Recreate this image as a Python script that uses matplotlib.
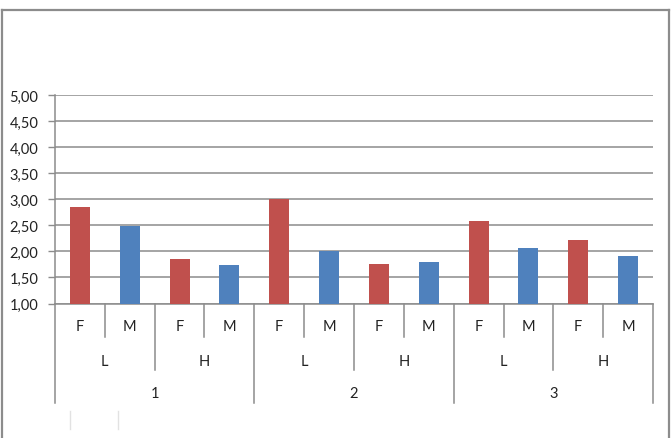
import matplotlib
matplotlib.use('Agg')
from matplotlib import pyplot as plt
from matplotlib import transforms
from matplotlib.lines import Line2D
from matplotlib.ticker import FuncFormatter
import numpy as np

# Dados
groups = ['1', '2', '3']
levels = ['L', 'H']
sexes = ['F', 'M']
female = [2.86, 1.86, 3.00, 1.76, 2.58, 2.22]
male = [2.49, 1.74, 2.00, 1.80, 2.06, 1.92]

W, H = 672, 439
plt.rcParams['font.family'] = ['Lato', 'DejaVu Sans']

fig = plt.figure(figsize=(W / 100, H / 100), dpi=100)


def fy(py):
    return 1 - py / H


ax = fig.add_axes([55 / W, fy(304.5), (653 - 55) / W, (304.5 - 96) / H])

# Barras alternadas F / M
x = np.arange(len(female) * 2)
values = [v for pair in zip(female, male) for v in pair]
colors = ['#C0504D', '#4F81BD'] * len(female)
ax.bar(x, np.array(values) - 1, bottom=1, width=0.4, color=colors, zorder=3)

ax.set_xlim(-0.5, len(x) - 0.5)
ax.set_ylim(1, 5)
ax.set_yticks(np.arange(1, 5.01, 0.5))
ax.yaxis.set_major_formatter(FuncFormatter(lambda v, p: f'{v:.2f}'.replace('.', ',')))
ax.grid(axis='y', color='#8C8C8C', linewidth=1.1, zorder=0)
ax.set_xticks([])
ax.tick_params(axis='y', length=5, width=1, color='#8C8C8C', labelsize=10.5, pad=7,
               labelcolor='#222222')
for s in ['top', 'right']:
    ax.spines[s].set_visible(False)
for s in ['left', 'bottom']:
    ax.spines[s].set_color('#8C8C8C')
    ax.spines[s].set_linewidth(1.1)

# Eixo de categorias em três níveis
tr = transforms.blended_transform_factory(ax.transData, fig.transFigure)
line_kw = dict(color='#8C8C8C', linewidth=1.1, transform=tr, clip_on=False)
for i in range(len(x) + 1):
    xs = i - 0.5
    if i % 4 == 0:
        bottom = 404
    elif i % 2 == 0:
        bottom = 371
    else:
        bottom = 338
    fig.add_artist(Line2D([xs, xs], [fy(304.5), fy(bottom)], **line_kw))

txt_kw = dict(transform=tr, ha='center', va='center', fontsize=10.5, color='#222222')
for i in x:
    fig.text(i, fy(327), sexes[i % 2], **txt_kw)
for j in range(len(groups) * len(levels)):
    fig.text(2 * j + 0.5, fy(362), levels[j % 2], **txt_kw)
for k, g in enumerate(groups):
    fig.text(4 * k + 1.5, fy(394), g, **txt_kw)

# Moldura externa
frame_kw = dict(color='#8C8C8C', linewidth=1.6, transform=fig.transFigure)
fig.add_artist(Line2D([1.5 / W, 1.5 / W], [0, fy(11)], **frame_kw))
fig.add_artist(Line2D([669 / W, 669 / W], [0, fy(11)], **frame_kw))
fig.add_artist(Line2D([1.5 / W, 669 / W], [fy(11), fy(11)], **frame_kw))

# Traços claros no canto inferior
faint_kw = dict(color='#E2E2E2', linewidth=1, transform=fig.transFigure)
fig.add_artist(Line2D([70 / W, 70 / W], [fy(412), fy(430)], **faint_kw))
fig.add_artist(Line2D([118 / W, 118 / W], [fy(412), fy(430)], **faint_kw))

plt.savefig('out.png', dpi=100)
